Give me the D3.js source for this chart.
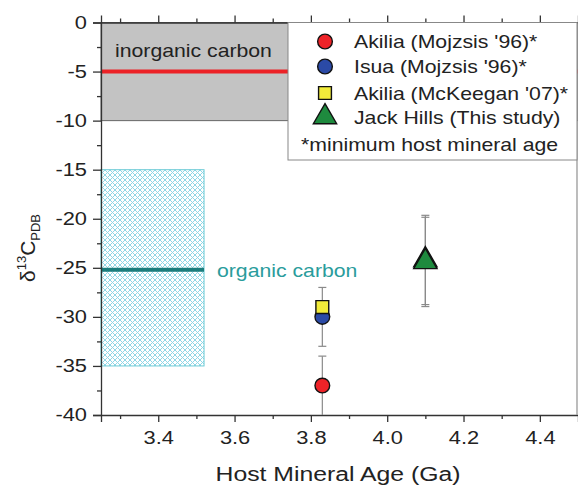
<!DOCTYPE html>
<html>
<head>
<meta charset="utf-8">
<script src="https://cdn.jsdelivr.net/npm/d3@7"></script>
<style>
  body { margin: 0; background: #fff; }
  text { font-family: "Liberation Sans", Arial, sans-serif; fill: #222; }
</style>
</head>
<body>
<svg id="chart" width="578" height="486"></svg>
<script>
// data
var seriesNames = ["Akilia (Mojzsis '96)*", "Isua (Mojzsis '96)*", "Akilia (McKeegan '07)*", "Jack Hills (This study)"];
var footnote = "*minimum host mineral age";

var akiliaAge = [3.83], akiliaD13C = [-37], akiliaErr = [3];
var isuaAge = [3.83], isuaD13C = [-30], isuaErr = [3];
var mckeeganAge = [3.83], mckeeganD13C = [-29];
var jackHillsAge = [4.10, 4.10], jackHillsD13C = [-24.2, -24.4], jackHillsErr = [4.55, 4.55];

// reference fields
var inorganicRange = [0, -10], inorganicLine = -5;
var organicRange = [-15, -35], organicAge = [3.25, 3.52], organicLine = -25.2;

var xMajor = [3.4, 3.6, 3.8, 4.0, 4.2, 4.4];
var xMinor = [3.3, 3.5, 3.7, 3.9, 4.1, 4.3];
var yMajor = [0, -5, -10, -15, -20, -25, -30, -35, -40];
var yMinor = [-2.5, -7.5, -12.5, -17.5, -22.5, -27.5, -32.5, -37.5];

var svg = d3.select("#chart");
var x = d3.scaleLinear().domain([3.25, 4.5]).range([101, 578]);
var y = d3.scaleLinear().domain([-40, 0]).range([415, 22.5]);

// the original's lettering is a bit wider than Arial, so stretch it a little
var sx = 1.18;
function addText(parent, px, py, str, size, anchor) {
  return parent.append("text")
    .attr("transform", "translate(" + px + "," + py + ") scale(" + sx + ",1)")
    .attr("text-anchor", anchor || "start")
    .attr("font-size", size)
    .text(str);
}

// hatch pattern for organic carbon box
var defs = svg.append("defs");
var pat = defs.append("pattern")
  .attr("id", "hatch")
  .attr("patternUnits", "userSpaceOnUse")
  .attr("width", 5).attr("height", 5);
pat.append("path").attr("d", "M0,0L5,5M5,0L0,5")
  .attr("stroke", "#8fd6e6").attr("stroke-width", 1);

// inorganic carbon band
svg.append("rect")
  .attr("x", x(3.25)).attr("y", y(inorganicRange[0]))
  .attr("width", x(4.5) - x(3.25))
  .attr("height", y(inorganicRange[1]) - y(inorganicRange[0]))
  .attr("fill", "#c3c3c3").attr("stroke", "#666").attr("stroke-width", 1);

svg.append("line")
  .attr("x1", x(3.25)).attr("x2", x(4.5))
  .attr("y1", y(inorganicLine)).attr("y2", y(inorganicLine))
  .attr("stroke", "#ec2227").attr("stroke-width", 4);

addText(svg, 115, 57, "inorganic carbon", 18);

// organic carbon box
svg.append("rect")
  .attr("x", x(organicAge[0])).attr("y", y(organicRange[0]))
  .attr("width", x(organicAge[1]) - x(organicAge[0]))
  .attr("height", y(organicRange[1]) - y(organicRange[0]))
  .attr("fill", "url(#hatch)").attr("stroke", "#6ccbd6").attr("stroke-width", 1);

svg.append("line")
  .attr("x1", x(organicAge[0])).attr("x2", x(organicAge[1]))
  .attr("y1", y(organicLine)).attr("y2", y(organicLine))
  .attr("stroke", "#1a7d7d").attr("stroke-width", 4);

addText(svg, 217, 277, "organic carbon", 18).style("fill", "#2a9c9c");

// axes
var axisColor = "#333";
function styleAxis(g) {
  g.selectAll("path").attr("stroke", axisColor).attr("stroke-width", 1.3);
  g.selectAll("line").attr("stroke", axisColor).attr("stroke-width", 1.3);
  g.selectAll("text").attr("font-size", 18.5).style("fill", "#222")
    .attr("font-family", "Liberation Sans, Arial, sans-serif");
}
var plain = function(d) { return String(d); };

var yAxis = svg.append("g").attr("transform", "translate(" + x(3.25) + ",0)")
  .call(d3.axisLeft(y).tickValues(yMajor).tickSize(8).tickPadding(6).tickFormat(plain));
styleAxis(yAxis);
yAxis.selectAll("text")
  .attr("x", -14 / sx)
  .attr("transform", "scale(" + sx + ",1)");
var yMin = svg.append("g").attr("transform", "translate(" + x(3.25) + ",0)")
  .call(d3.axisLeft(y).tickValues(yMinor).tickSize(4).tickFormat(""));
styleAxis(yMin);
yMin.select("path").remove();

var xAxis = svg.append("g").attr("transform", "translate(0," + y(-40) + ")")
  .call(d3.axisBottom(x).tickValues(xMajor).tickSize(7).tickPadding(9).tickFormat(d3.format(".1f")));
styleAxis(xAxis);
xAxis.selectAll("text").attr("transform", "scale(" + sx + ",1)");
var xMin = svg.append("g").attr("transform", "translate(0," + y(-40) + ")")
  .call(d3.axisBottom(x).tickValues(xMinor).tickSize(4).tickFormat(""));
styleAxis(xMin);
xMin.select("path").remove();

var topAxis = svg.append("g").attr("transform", "translate(0," + y(0) + ")")
  .call(d3.axisTop(x).tickValues(xMajor).tickSize(7).tickFormat(""));
styleAxis(topAxis);
var topMin = svg.append("g").attr("transform", "translate(0," + y(0) + ")")
  .call(d3.axisTop(x).tickValues(xMinor).tickSize(4).tickFormat(""));
styleAxis(topMin);
topMin.select("path").remove();

svg.append("line")
  .attr("x1", 577).attr("x2", 577)
  .attr("y1", y(0)).attr("y2", y(-40))
  .attr("stroke", "#999").attr("stroke-width", 1.3);

// axis titles
addText(svg, 338, 481, "Host Mineral Age (Ga)", 21, "middle");

var ylab = svg.append("text")
  .attr("transform", "translate(35,248) rotate(-90)")
  .attr("text-anchor", "middle")
  .attr("font-size", 21);
ylab.append("tspan").text("δ");
ylab.append("tspan").attr("font-size", 13).attr("dy", -9).text("13");
ylab.append("tspan").attr("dy", 9).text("C");
ylab.append("tspan").attr("font-size", 13).attr("dy", 5).text("PDB");

// error bars
var errColor = "#8a8a8a";
function errorBars(ages, vals, errs) {
  var g = svg.append("g");
  ages.forEach(function(a, i) {
    var lo = Math.max(vals[i] - errs[i], -40), hi = vals[i] + errs[i];
    g.append("line").attr("x1", x(a)).attr("x2", x(a))
      .attr("y1", y(hi)).attr("y2", y(lo))
      .attr("stroke", errColor).attr("stroke-width", 1.2);
    [lo, hi].forEach(function(v) {
      if (v <= -40) return;
      g.append("line").attr("x1", x(a) - 4).attr("x2", x(a) + 4)
        .attr("y1", y(v)).attr("y2", y(v))
        .attr("stroke", errColor).attr("stroke-width", 1.2);
    });
  });
}
errorBars(akiliaAge, akiliaD13C, akiliaErr);
errorBars(isuaAge, isuaD13C, isuaErr);
errorBars(jackHillsAge, jackHillsD13C, jackHillsErr);

// markers
var circleSym = d3.symbol().type(d3.symbolCircle).size(170);
var squareSym = d3.symbol().type(d3.symbolSquare).size(165);
var triSym = d3.symbol().type(d3.symbolTriangle).size(235);

function drawSeries(ages, vals, sym, color) {
  svg.append("g").selectAll("path")
    .data(ages)
    .enter()
    .append("path")
    .attr("d", sym)
    .attr("transform", function(d, i) { return "translate(" + x(d) + "," + y(vals[i]) + ")"; })
    .attr("fill", color)
    .attr("stroke", "#111")
    .attr("stroke-width", 1.4);
}
var colors = ["#ee2328", "#2b4aa6", "#f2ec3a", "#1e8a3e"];
drawSeries(akiliaAge, akiliaD13C, circleSym, colors[0]);
drawSeries(isuaAge, isuaD13C, circleSym, colors[1]);
drawSeries(mckeeganAge, mckeeganD13C, squareSym, colors[2]);
drawSeries(jackHillsAge, jackHillsD13C, triSym, colors[3]);

// legend
var legend = svg.append("g");
legend.append("rect")
  .attr("x", 288).attr("y", 22.5).attr("width", 289).attr("height", 137.5)
  .attr("fill", "#fff").attr("stroke", "#888").attr("stroke-width", 1);
var legSyms = [circleSym, circleSym, squareSym, triSym];
var legY = [41.5, 66.5, 93, 117];
seriesNames.forEach(function(name, i) {
  legend.append("path")
    .attr("d", legSyms[i])
    .attr("transform", "translate(325," + legY[i] + ")")
    .attr("fill", colors[i]).attr("stroke", "#111").attr("stroke-width", 1.4);
  addText(legend, 354, legY[i] + 6.5, name, 18);
});
addText(legend, 301, 150.5, footnote, 18);
</script>
</body>
</html>
